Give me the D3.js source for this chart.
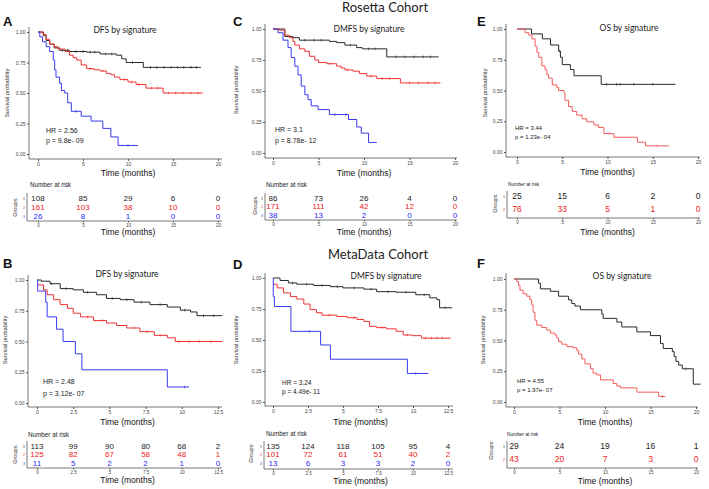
<!DOCTYPE html>
<html>
<head>
<meta charset="utf-8">
<script src="https://cdn.jsdelivr.net/npm/d3@7"></script>
<style>
  body { margin: 0; background: #fff; }
  svg { display: block; font-family: "Liberation Sans", Arial, sans-serif; }
  .ttl { font-family: Lato, "Open Sans", sans-serif; }
</style>
</head>
<body>
<div id="fig"></div>
<script>
'use strict';
// ---- data ----
var yTicks = [0, 0.25, 0.5, 0.75, 1];
var ticks20 = [0, 5, 10, 15, 20];
var ticks12 = [0, 2.5, 5, 7.5, 10, 12.5];

// A: Rosetta DFS  (steps: [month, survival]; censor: months)
var A_g1 = [[0,1],[0.6,0.97],[0.9,0.93],[1.3,0.90],[1.8,0.87],[2.4,0.85],[3.5,0.84],[5.4,0.835],[6.9,0.82],[8.7,0.81],[9.3,0.78],[9.8,0.75],[11.7,0.71],[18.1,0.71]];
var A_g2 = [[0,1],[0.55,0.98],[0.9,0.94],[1.3,0.90],[1.8,0.88],[2.2,0.86],[3,0.84],[3.5,0.81],[3.9,0.79],[4.3,0.77],[4.8,0.73],[5.4,0.70],[6.2,0.69],[6.9,0.68],[7.6,0.66],[8.1,0.65],[8.5,0.63],[9.1,0.61],[10,0.59],[10.9,0.57],[12,0.54],[13.9,0.50],[18.3,0.50]];
var A_g3 = [[0,1],[0.2,0.96],[0.5,0.92],[0.9,0.88],[1.3,0.84],[1.7,0.77],[1.85,0.69],[2.0,0.63],[2.4,0.58],[2.6,0.52],[2.96,0.50],[3.3,0.42],[3.7,0.35],[4.8,0.31],[5.9,0.27],[7.2,0.21],[8.1,0.14],[8.9,0.07],[11.1,0.07]];
var A_c1 = [2.7, 3.3, 4.2, 5.0, 5.8, 6.3, 7.5, 8.2, 10.5, 12.5, 13.2, 14, 14.8, 15.5, 16.2, 17, 17.6];
var A_c2 = [5.8, 7.2, 9.6, 10.4, 11.2, 12.6, 13.3, 14.5, 15.3, 16.1, 17, 17.8];
var A_c3 = [4.2, 10];
var A_risk = [[108,85,29,6,0],[161,103,38,10,0],[26,8,1,0,0]];

// C: Rosetta DMFS
var C_g1 = [[0,1],[1.3,0.94],[2.2,0.93],[2.9,0.91],[6.2,0.90],[7,0.89],[7.9,0.87],[9.2,0.85],[9.8,0.84],[12.5,0.775],[18.2,0.775]];
var C_g2 = [[0,1],[0.7,0.99],[1.3,0.95],[1.8,0.93],[2.2,0.90],[2.4,0.87],[2.9,0.84],[3.5,0.82],[4,0.78],[4.6,0.75],[5,0.73],[5.9,0.72],[7,0.70],[7.5,0.685],[7.9,0.67],[8.8,0.66],[9.5,0.64],[10.3,0.62],[11.4,0.60],[14,0.565],[18.4,0.565]];
var C_g3 = [[0,1],[0.55,0.97],[1.1,0.91],[1.65,0.85],[2.0,0.77],[2.4,0.70],[2.75,0.63],[3.1,0.54],[3.5,0.47],[3.85,0.43],[4.2,0.38],[4.95,0.35],[6.2,0.31],[8.3,0.27],[9.2,0.21],[9.7,0.16],[10.5,0.085],[11.4,0.085]];
var C_c1 = [3.5, 4.5, 5.3, 8.5, 10.5, 11.2, 13.5, 14.5, 15.5, 16.5, 17.3];
var C_c2 = [6.2, 8.2, 10.8, 12, 12.8, 15, 16, 17, 17.8];
var C_c3 = [6.8, 8.0];
var C_risk = [[86,73,26,4,0],[171,111,42,12,0],[38,13,2,0,0]];

// E: Rosetta OS
var E_g1 = [[0,1],[1.6,0.96],[2.8,0.92],[3.7,0.87],[4.6,0.82],[4.8,0.77],[5.0,0.71],[5.9,0.67],[6.3,0.62],[9.3,0.55],[17.5,0.55]];
var E_g2 = [[0,1],[0.9,0.97],[1.3,0.95],[1.65,0.92],[2.0,0.86],[2.2,0.81],[2.4,0.77],[2.75,0.70],[3.1,0.67],[3.3,0.63],[3.5,0.60],[3.9,0.545],[4.4,0.525],[4.6,0.50],[5.2,0.48],[5.3,0.42],[5.7,0.37],[6.1,0.33],[6.6,0.30],[7.2,0.27],[7.7,0.245],[8.5,0.22],[9,0.20],[9.6,0.15],[10.7,0.12],[13.3,0.08],[14.2,0.05],[16.8,0.05]];
var E_c1 = [4.7, 9.9, 11.0, 11.4, 12.9, 15.0];
var E_c2 = [10.2, 15.5];
var E_risk = [[25,15,6,2,0],[76,33,5,1,0]];

// B: MetaData DFS
var B_g1 = [[0,1],[0.3,0.99],[0.9,0.97],[1.6,0.93],[2.5,0.92],[3.2,0.90],[4.1,0.88],[4.8,0.85],[5.75,0.84],[6.7,0.82],[7.8,0.80],[9.0,0.78],[9.9,0.755],[10.6,0.74],[11.05,0.71],[12.8,0.71]];
var B_g2 = [[0,0.96],[0.45,0.92],[0.7,0.88],[1.15,0.84],[1.6,0.80],[2.1,0.77],[2.5,0.73],[3.0,0.70],[3.9,0.67],[4.8,0.65],[5.5,0.63],[6.2,0.61],[7.1,0.58],[8.1,0.55],[9.0,0.53],[9.55,0.50],[12.8,0.50]];
var B_g3 = [[0,1],[0.05,0.91],[0.6,0.82],[0.7,0.70],[1.35,0.60],[1.8,0.50],[2.65,0.40],[3.1,0.27],[9.0,0.13],[10.5,0.13]];
var B_c1 = [1, 2, 3.5, 5.2, 6.2, 7.2, 8.5, 10.2, 11.5, 12.2];
var B_c2 = [3.5, 4.5, 6.7, 7.6, 8.5, 9.8, 10.5, 11.2, 12];
var B_c3 = [10.2];
var B_risk = [[113,99,90,80,68,2],[125,82,67,58,48,1],[11,5,2,2,1,0]];

// D: MetaData DMFS
var D_g1 = [[0,1],[0.5,0.98],[1.1,0.96],[1.7,0.95],[2.9,0.94],[4.1,0.93],[5.0,0.92],[6.5,0.91],[7.4,0.89],[8.8,0.885],[10.2,0.865],[11.2,0.84],[11.7,0.825],[11.9,0.76],[12.8,0.76]];
var D_g2 = [[0,0.95],[0.3,0.92],[0.75,0.88],[1.25,0.85],[1.7,0.83],[2.2,0.79],[2.65,0.745],[3.1,0.72],[3.5,0.70],[4.55,0.69],[5.3,0.68],[6.0,0.665],[6.5,0.65],[6.9,0.61],[7.4,0.60],[8.1,0.59],[8.8,0.57],[9.3,0.54],[10.0,0.535],[10.6,0.515],[12.7,0.515]];
var D_g3 = [[0,1],[0.02,0.85],[0.1,0.77],[1.28,0.57],[3.4,0.46],[4.1,0.345],[9.6,0.23],[11.1,0.23]];
var D_c1 = [1.4, 2.4, 3.5, 4.6, 5.8, 7, 8.2, 9.5, 10.8, 12.3];
var D_c2 = [4, 5.8, 7.8, 9.6, 10.9, 11.3, 11.7, 12.1];
var D_c3 = [2.6, 10.2];
var D_risk = [[135,124,118,105,95,4],[101,72,61,51,40,2],[13,6,3,3,2,0]];

// F: MetaData OS
var F_g1 = [[0,1],[2.7,0.965],[2.9,0.92],[4.0,0.90],[4.9,0.86],[6.0,0.83],[6.35,0.80],[6.7,0.78],[7.3,0.75],[9.65,0.715],[9.8,0.68],[11.3,0.65],[11.85,0.61],[13.5,0.57],[15,0.54],[16.1,0.475],[16.4,0.435],[17.4,0.41],[17.6,0.37],[17.8,0.33],[18.1,0.30],[18.5,0.27],[19.7,0.145],[20.5,0.145]];
var F_g2 = [[0,1],[0.3,0.98],[0.5,0.95],[0.65,0.91],[1.0,0.88],[1.4,0.86],[1.75,0.83],[1.95,0.79],[2.1,0.73],[2.3,0.665],[2.5,0.625],[3.05,0.605],[3.6,0.585],[4.0,0.56],[4.5,0.545],[4.7,0.52],[4.9,0.49],[5.25,0.47],[5.8,0.45],[6.5,0.44],[6.9,0.42],[7.1,0.39],[7.45,0.35],[7.8,0.31],[8.4,0.27],[8.7,0.235],[9.1,0.22],[9.5,0.18],[10.9,0.15],[11.3,0.13],[11.7,0.115],[13.5,0.08],[15.9,0.045],[16.6,0.045]];
var F_c1 = [18.9];
var F_c2 = [16.3];
var F_risk = [[29,24,19,16,1],[43,20,7,3,0]];

// ---- styling ----
var LINE_COLORS = ['#2a2a2a', '#f03333', '#3a3af0'];
var TEXT_COLORS = ['#222222', '#f02020', '#2a2af5'];

var W = 709, H = 489;
var svg = d3.select('#fig').append('svg').attr('width', W).attr('height', H);

// survival value of a step curve at time t
var stepAt = function(curve, t) {
  var i = d3.bisector(function(d) { return d[0]; }).right(curve, t) - 1;
  return curve[Math.max(0, i)][1];
};

var drawPanel = function(p) {
  var g = svg.append('g');
  var x = d3.scaleLinear().domain([0, p.xmax]).range([p.x0, p.x1]);
  var y = d3.scaleLinear().domain([0, 1]).range([p.y0, p.y1]);
  var fmtX = d3.format('~g');

  // panel letter
  g.append('text').attr('x', p.letter[1]).attr('y', p.letter[2])
    .attr('font-size', 13).attr('font-weight', 'bold').attr('fill', '#111')
    .text(p.letter[0]);

  // y axis
  var ya = g.append('g').attr('transform', 'translate(' + p.axisX + ',0)')
    .call(d3.axisLeft(y).tickValues(yTicks).tickFormat(d3.format('.2f')).tickSize(2).tickPadding(1.5));
  ya.select('.domain').remove();
  ya.selectAll('text').attr('font-size', 5).attr('fill', '#444');
  ya.selectAll('line').attr('stroke', '#555');
  g.append('line').attr('x1', p.axisX).attr('x2', p.axisX).attr('y1', p.axisTop).attr('y2', p.axisY)
    .attr('stroke', '#555').attr('stroke-width', 0.8);

  // x axis
  var xa = g.append('g').attr('transform', 'translate(0,' + p.axisY + ')')
    .call(d3.axisBottom(x).tickValues(p.ticks).tickFormat(fmtX).tickSize(2).tickPadding(1.5));
  xa.select('.domain').remove();
  xa.selectAll('text').attr('font-size', 5).attr('fill', '#444');
  xa.selectAll('line').attr('stroke', '#555');
  g.append('line').attr('x1', p.axisX).attr('x2', p.axisRight).attr('y1', p.axisY).attr('y2', p.axisY)
    .attr('stroke', '#555').attr('stroke-width', 0.8);

  g.append('text').attr('x', (p.x0 + p.x1) / 2).attr('y', p.xlabY).attr('text-anchor', 'middle')
    .attr('font-size', 8.5).attr('fill', '#111').text('Time (months)');
  g.append('text').attr('transform', 'translate(' + p.ylab[0] + ',' + p.ylab[1] + ') rotate(-90)')
    .attr('text-anchor', 'middle').attr('font-size', 5.8).attr('fill', '#333').text('Survival probability');

  // title
  g.append('text').attr('class', 'ttl').attr('x', p.title[1]).attr('y', p.title[2]).attr('text-anchor', 'middle')
    .attr('font-size', 8.5).attr('fill', '#222').text(p.title[0]);

  // curves + censor ticks
  var line = d3.line().curve(d3.curveStepAfter)
    .x(function(d) { return x(d[0]); })
    .y(function(d) { return y(d[1]); });
  p.curves.forEach(function(c, i) {
    var col = p.colors ? p.colors[i] : LINE_COLORS[i];
    g.append('path').datum(c).attr('d', line).attr('fill', 'none')
      .attr('stroke', col).attr('stroke-width', 1);
    g.append('g').selectAll('line').data(p.censor[i]).enter().append('line')
      .attr('x1', function(t) { return x(t); })
      .attr('x2', function(t) { return x(t); })
      .attr('y1', function(t) { return y(stepAt(c, t)) - 1.3; })
      .attr('y2', function(t) { return y(stepAt(c, t)) + 1.3; })
      .attr('stroke', col).attr('stroke-width', 0.7);
  });

  // HR / p
  g.append('text').attr('x', p.hr[0]).attr('y', p.hr[1]).attr('font-size', p.hrSize)
    .attr('fill', '#222').text(p.hrText);
  g.append('text').attr('x', p.hr[0]).attr('y', p.hr[2]).attr('font-size', p.hrSize)
    .attr('fill', '#222').text(p.pText);

  // risk table
  var r = p.risk;
  g.append('text').attr('x', r.labX).attr('y', r.labY).attr('font-size', r.labSize)
    .attr('fill', '#222').text('Number at risk');
  p.riskData.forEach(function(row, i) {
    g.append('g').selectAll('text').data(row).enter().append('text')
      .attr('x', function(d, j) { return x(p.ticks[j]); })
      .attr('y', r.rows[i] + 3)
      .attr('text-anchor', 'middle').attr('font-size', r.numSize)
      .attr('fill', TEXT_COLORS[i])
      .text(function(d) { return d; });
    g.append('text').attr('x', r.axisX - 2).attr('y', r.rows[i] + 1.5)
      .attr('text-anchor', 'end').attr('font-size', 3.5).attr('fill', TEXT_COLORS[i])
      .text(i + 1);
  });
  g.append('line').attr('x1', r.axisX).attr('x2', r.axisX).attr('y1', r.top).attr('y2', r.axisY)
    .attr('stroke', '#555').attr('stroke-width', 0.8);
  var ra = g.append('g').attr('transform', 'translate(0,' + r.axisY + ')')
    .call(d3.axisBottom(x).tickValues(p.ticks).tickFormat(fmtX).tickSize(1.5).tickPadding(1));
  ra.select('.domain').remove();
  ra.selectAll('text').attr('font-size', 4.5).attr('fill', '#444');
  ra.selectAll('line').attr('stroke', '#555');
  g.append('line').attr('x1', r.axisX).attr('x2', p.axisRight).attr('y1', r.axisY).attr('y2', r.axisY)
    .attr('stroke', '#555').attr('stroke-width', 0.8);
  g.append('text').attr('x', (p.x0 + p.x1) / 2).attr('y', r.timeY).attr('text-anchor', 'middle')
    .attr('font-size', 8.5).attr('fill', '#111').text('Time (months)');
  g.append('text').attr('transform', 'translate(' + r.groups[0] + ',' + r.groups[1] + ') rotate(-90)')
    .attr('text-anchor', 'middle').attr('font-size', 5.5).attr('fill', '#333').text('Groups:');
};

// cohort headings
svg.append('text').attr('class', 'ttl').attr('x', 385).attr('y', 12).attr('text-anchor', 'middle')
  .attr('font-size', 13).attr('fill', '#222').text('Rosetta Cohort');
svg.append('text').attr('class', 'ttl').attr('x', 378).attr('y', 259).attr('text-anchor', 'middle')
  .attr('font-size', 13).attr('fill', '#222').text('MetaData Cohort');

drawPanel({
  letter: ['A', 3, 26], title: ['DFS by signature', 125, 33],
  xmax: 20, ticks: ticks20, x0: 38, x1: 218, y0: 154, y1: 32,
  axisX: 29, axisY: 159, axisRight: 222, axisTop: 27, xlabY: 176, ylab: [9, 93],
  curves: [A_g1, A_g2, A_g3], censor: [A_c1, A_c2, A_c3], riskData: A_risk,
  hr: [46, 133, 143], hrSize: 7, hrText: 'HR = 2.56', pText: 'p = 9.8e- 09',
  risk: { labX: 30, labY: 187, labSize: 6.3, numSize: 8, rows: [198, 207, 216], axisX: 27, top: 193, axisY: 221, timeY: 235, groups: [17, 207] }
});
drawPanel({
  letter: ['C', 233, 26], title: ['DMFS by signature', 369, 32],
  xmax: 20, ticks: ticks20, x0: 273, x1: 455, y0: 153, y1: 29,
  axisX: 265, axisY: 158, axisRight: 457, axisTop: 24, xlabY: 176, ylab: [238, 90],
  curves: [C_g1, C_g2, C_g3], censor: [C_c1, C_c2, C_c3], riskData: C_risk,
  hr: [275, 132, 143], hrSize: 7, hrText: 'HR = 3.1', pText: 'p = 8.78e- 12',
  risk: { labX: 266, labY: 187, labSize: 6.3, numSize: 8, rows: [198, 206, 215], axisX: 265, top: 193, axisY: 220, timeY: 235, groups: [257, 205] }
});
drawPanel({
  letter: ['E', 477, 26], title: ['OS by signature', 629, 31],
  xmax: 20, ticks: ticks20, x0: 517, x1: 698, y0: 152, y1: 29,
  axisX: 506, axisY: 157, axisRight: 700, axisTop: 24, xlabY: 175, ylab: [487, 93],
  curves: [E_g1, E_g2], censor: [E_c1, E_c2], riskData: E_risk, colors: ['#2a2a2a', '#f45a5a'],
  hr: [515, 130, 139], hrSize: 6, hrText: 'HR = 3.44', pText: 'p = 1.23e- 04',
  risk: { labX: 508, labY: 186, labSize: 4.8, numSize: 8.5, rows: [196, 209], axisX: 507, top: 191, axisY: 218, timeY: 235, groups: [497, 203] }
});
drawPanel({
  letter: ['B', 3, 268], title: ['DFS by signature', 127, 277],
  xmax: 12.5, ticks: ticks12, x0: 37, x1: 218, y0: 403, y1: 280,
  axisX: 28, axisY: 407, axisRight: 222, axisTop: 275, xlabY: 425, ylab: [7, 340],
  curves: [B_g1, B_g2, B_g3], censor: [B_c1, B_c2, B_c3], riskData: B_risk,
  hr: [43, 384, 396], hrSize: 7, hrText: 'HR = 2.48', pText: 'p = 3.12e- 07',
  risk: { labX: 28, labY: 437, labSize: 6.3, numSize: 8, rows: [446, 454, 463], axisX: 27, top: 441, axisY: 468, timeY: 483, groups: [17, 454] }
});
drawPanel({
  letter: ['D', 233, 269], title: ['DMFS by signature', 386, 279],
  xmax: 12.5, ticks: ticks12, x0: 273, x1: 448, y0: 402, y1: 278,
  axisX: 265, axisY: 406, axisRight: 453, axisTop: 273, xlabY: 425, ylab: [238, 340],
  curves: [D_g1, D_g2, D_g3], censor: [D_c1, D_c2, D_c3], riskData: D_risk,
  hr: [282, 385, 394], hrSize: 6.5, hrText: 'HR = 3.24', pText: 'p = 4.49e- 11',
  risk: { labX: 266, labY: 436, labSize: 6.3, numSize: 8, rows: [446, 454, 463], axisX: 264, top: 441, axisY: 469, timeY: 484, groups: [253, 453] }
});
drawPanel({
  letter: ['F', 477, 268], title: ['OS by signature', 622, 279],
  xmax: 20, ticks: ticks20, x0: 514, x1: 696, y0: 402, y1: 279,
  axisX: 506, axisY: 407, axisRight: 698, axisTop: 273, xlabY: 425, ylab: [485, 340],
  curves: [F_g1, F_g2], censor: [F_c1, F_c2], riskData: F_risk, colors: ['#2a2a2a', '#f45a5a'],
  hr: [517, 383, 392], hrSize: 6, hrText: 'HR = 4.55', pText: 'p = 1.97e- 07',
  risk: { labX: 507, labY: 436, labSize: 4.8, numSize: 8.5, rows: [446, 459], axisX: 507, top: 441, axisY: 468, timeY: 484, groups: [493, 450] }
});
</script>
</body>
</html>
